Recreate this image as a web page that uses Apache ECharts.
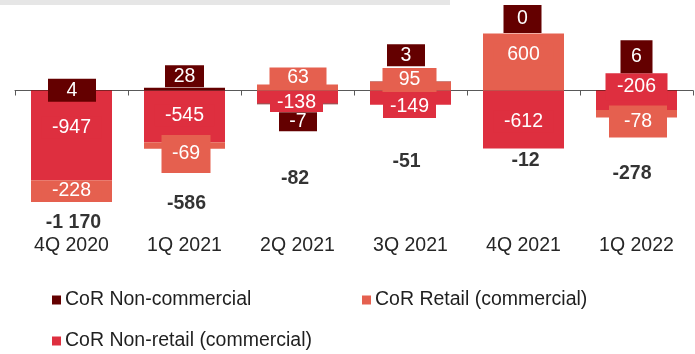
<!DOCTYPE html>
<html>
<head>
<meta charset="utf-8">
<script src="https://cdn.jsdelivr.net/npm/echarts@6/dist/echarts.min.js"></script>
<style>
  html, body { margin: 0; padding: 0; background: #fff; }
  #chart { width: 695px; height: 354px; }
</style>
</head>
<body>
<div id="chart"></div>
<script>
// Cost of risk by component, quarterly
const categories = ['4Q 2020', '1Q 2021', '2Q 2021', '3Q 2021', '4Q 2021', '1Q 2022'];
const nonCommercial = [4, 28, -7, 3, 0, 6];
const retail = [-228, -69, 63, 95, 600, -78];
const nonRetail = [-947, -545, -138, -149, -612, -206];
const totals = [-1170, -586, -82, -51, -12, -278];

const names = {
  nonCommercial: 'CoR Non-commercial',
  retail: 'CoR Retail (commercial)',
  nonRetail: 'CoR Non-retail (commercial)'
};
const colors = {
  nonCommercial: '#640000',
  retail: '#e5604f',
  nonRetail: '#de2f3f'
};

// Label boxes: [width, height, dx, dy] relative to the segment centre
const nonRetailBoxes = [[60, 22, 0, -8], [60, 22, 0, -1], [53, 18, -1, 6], [53, 23, -1, 9], [60, 22, 0, 2], [62, 27, 0, -13.6]];
const retailBoxes = [[60, 20, 0, 0], [49, 38, 1.5, 8.5], [57, 20, 0.5, -10], [54, 24, -1, -6], [60, 22, 0, -7.5], [58, 32, 1.5, 7.8]];
const nonCommercialBoxes = [[48, 23, 0.5, 0], [39, 22, 0, -13], [38, 19, 0.5, 17.8], [38, 22, -4.5, -26], [38, 28, -1, -14.6], [32, 33, 0, -33.5]];
// Total labels: [dx, dy] relative to the total's position
const totalOffsets = [[2, 21.5], [2, 58], [-2.5, 80.7], [-4, 66.4], [2, 69.4], [-4.5, 56.4]];

const FONT = "'Liberation Sans', Arial, sans-serif";
const FS = 19.5;

function segmentData(values, boxes, color) {
  return values.map((v, i) => {
    const [w, h, dx, dy] = boxes[i];
    return {
      value: v,
      label: {
        width: w, height: h, lineHeight: h,
        offset: [dx, dy],
        backgroundColor: color
      }
    };
  });
}

function barSeries(key, values, boxes) {
  return {
    name: names[key],
    type: 'bar',
    stack: 'cor',
    barWidth: 81,
    itemStyle: { color: colors[key] },
    label: {
      show: true,
      position: 'inside',
      align: 'center',
      verticalAlign: 'middle',
      color: '#ffffff',
      fontFamily: FONT,
      fontSize: FS
    },
    data: segmentData(values, boxes, colors[key])
  };
}

function formatTotal(v) {
  const s = Math.abs(v).toString().replace(/\B(?=(\d{3})+(?!\d))/g, ' ');
  return (v < 0 ? '-' : '') + s;
}

function legendAt(key, left, top) {
  return {
    data: [names[key]],
    left: left, top: top,
    orient: 'horizontal',
    icon: 'rect',
    itemWidth: 9, itemHeight: 9,
    itemGap: 0,
    padding: 0,
    selectedMode: false,
    textStyle: { fontFamily: FONT, fontSize: FS, color: '#1f1f1f', padding: [0, 0, 0, -1] }
  };
}

const chart = echarts.init(document.getElementById('chart'), null, { renderer: 'canvas' });

chart.setOption({
  animation: false,
  backgroundColor: '#ffffff',
  graphic: [{
    type: 'rect', left: 0, top: 0, z: -1,
    shape: { width: 450, height: 5 },
    style: { fill: '#e6e6e6' }
  }],
  grid: { left: 15, right: 2, top: 14.66, height: 208.56, outerBoundsMode: 'none', containLabel: false },
  legend: [
    legendAt('nonCommercial', 52, 290),
    legendAt('retail', 362, 290),
    legendAt('nonRetail', 52, 331)
  ],
  xAxis: {
    type: 'category',
    data: categories,
    axisLine: { onZero: true, lineStyle: { color: '#595959', width: 1 } },
    axisTick: { show: true, length: 5, lineStyle: { color: '#595959' } },
    axisLabel: { margin: 12.5, color: '#262626', fontFamily: FONT, fontSize: FS }
  },
  yAxis: {
    type: 'value', min: -1400, max: 800, show: false,
    splitLine: { show: false }
  },
  series: [
    barSeries('nonRetail', nonRetail, nonRetailBoxes),
    barSeries('retail', retail, retailBoxes),
    barSeries('nonCommercial', nonCommercial, nonCommercialBoxes),
    {
      name: 'Total',
      type: 'scatter',
      symbolSize: 0,
      z: 5,
      label: {
        show: true,
        position: 'inside',
        color: '#000000',
        fontFamily: FONT,
        fontSize: FS,
        fontWeight: 'bold',
        formatter: p => formatTotal(p.value[1])
      },
      data: totals.map((t, i) => ({
        value: [i, t],
        label: { offset: totalOffsets[i] }
      }))
    }
  ]
});
</script>
</body>
</html>
